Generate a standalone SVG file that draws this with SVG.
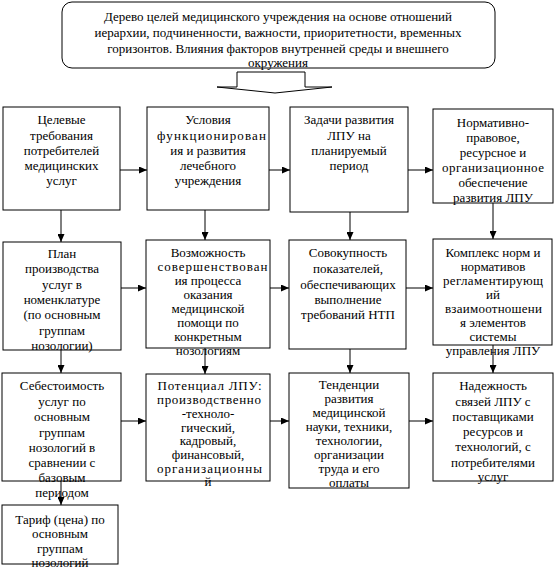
<svg xmlns="http://www.w3.org/2000/svg" width="555" height="569" viewBox="0 0 555 569">
<defs>
<style>
rect.b{fill:none;stroke:#000;stroke-width:1}
.t text{font-size:13px;fill:#000;text-anchor:middle}
.c line{stroke:#000;stroke-width:1;marker-end:url(#ah)}
</style>
<marker id="ah" markerUnits="userSpaceOnUse" markerWidth="8" markerHeight="7" refX="8" refY="3.5" orient="auto"><path d="M0,0 L8,3.5 L0,7 z" fill="#000"/></marker>
</defs>
<rect width="555" height="569" fill="#fff"/>
<g class="t" font-family="'Liberation Serif', 'DejaVu Serif', serif" lengthAdjust="spacing">
<g id="top">
<rect x="62" y="2" width="433" height="66" rx="10" fill="#fff" stroke="#000"/>
<text x="278" y="21">Дерево целей медицинского учреждения на основе отношений</text>
<text x="278" y="37">иерархии, подчиненности, важности, приоритетности, временных</text>
<text x="278" y="53">горизонтов. Влияния факторов внутренней среды и внешнего</text>
<text x="278" y="67">окружения</text>
</g>
<g id="bigarrow">
<path d="M237,72 H305 V87 H332 L275,93 L217,87 H237 Z" fill="#fff" stroke="#000"/>
</g>
<g class="c" id="connectors">
<line x1="120" y1="170" x2="147" y2="170"/>
<line x1="269" y1="170" x2="290" y2="170"/>
<line x1="408" y1="170" x2="433" y2="170"/>
<line x1="121" y1="288" x2="146" y2="288"/>
<line x1="270" y1="288" x2="289" y2="288"/>
<line x1="406" y1="288" x2="433" y2="288"/>
<line x1="121" y1="421" x2="146" y2="421"/>
<line x1="270" y1="421" x2="289" y2="421"/>
<line x1="409" y1="421" x2="433" y2="421"/>
<line x1="61" y1="210" x2="61" y2="242"/>
<line x1="205" y1="210" x2="205" y2="240"/>
<line x1="350" y1="212" x2="350" y2="240"/>
<line x1="493" y1="203" x2="493" y2="239"/>
<line x1="61" y1="350" x2="61" y2="373"/>
<line x1="205" y1="348" x2="205" y2="374"/>
<line x1="350" y1="349" x2="350" y2="373"/>
<line x1="493" y1="345" x2="493" y2="373"/>
<line x1="61" y1="481" x2="61" y2="505"/>
</g>
<g id="n11">
<rect class="b" x="3" y="107" width="117" height="103"/>
<text x="61.5" y="124">Целевые</text><text x="61.5" y="139.5">требования</text><text x="61.5" y="155">потребителей</text><text x="61.5" y="170">медицинских</text><text x="61.5" y="185">услуг</text>
</g>
<g id="n12">
<rect class="b" x="147" y="107" width="122" height="103"/>
<text x="208" y="124">Условия</text><text x="211.5" y="139.5" textLength="109">функционирован</text><text x="208" y="155">ия и развития</text><text x="208" y="170">лечебного</text><text x="208" y="185">учреждения</text>
</g>
<g id="n13">
<rect class="b" x="290" y="107" width="118" height="105"/>
<text x="349" y="124">Задачи развития</text><text x="349" y="139.5">ЛПУ на</text><text x="349" y="155">планируемый</text><text x="349" y="170">период</text>
</g>
<g id="n14">
<rect class="b" x="433" y="109" width="120" height="94"/>
<text x="493" y="127">Нормативно-</text><text x="493" y="142">правовое,</text><text x="493" y="157">ресурсное и</text><text x="493" y="172" textLength="102">организационное</text><text x="493" y="187">обеспечение</text><text x="493" y="202">развития ЛПУ</text>
</g>
<g id="n21">
<rect class="b" x="3" y="242" width="118" height="108"/>
<text x="62" y="258">План</text><text x="62" y="273">производства</text><text x="62" y="289">услуг в</text><text x="62" y="304">номенклатуре</text><text x="62" y="319">(по основным</text><text x="62" y="335">группам</text><text x="62" y="350">нозологии)</text>
</g>
<g id="n22">
<rect class="b" x="146" y="240" width="124" height="108"/>
<text x="208" y="257">Возможность</text><text x="212.5" y="271" textLength="110">совершенствован</text><text x="208" y="285">ия процесса</text><text x="208" y="299">оказания</text><text x="208" y="313">медицинской</text><text x="208" y="327">помощи по</text><text x="208" y="341">конкретным</text><text x="208" y="355">нозологиям</text>
</g>
<g id="n23">
<rect class="b" x="289" y="240" width="117" height="109"/>
<text x="348" y="257">Совокупность</text><text x="348" y="273">показателей,</text><text x="348" y="289">обеспечивающих</text><text x="348" y="304">выполнение</text><text x="348" y="319">требований НТП</text>
</g>
<g id="n24">
<rect class="b" x="433" y="239" width="119" height="106"/>
<text x="493" y="257">Комплекс норм и</text><text x="493" y="271">нормативов</text><text x="493" y="285" textLength="100">регламентирующ</text><text x="493" y="299">ий</text><text x="493.5" y="313" textLength="97">взаимоотношени</text><text x="493" y="327">я элементов</text><text x="493" y="341">системы</text><text x="493" y="355">управления ЛПУ</text>
</g>
<g id="n31">
<rect class="b" x="2" y="373" width="119" height="108"/>
<text x="62" y="390">Себестоимость</text><text x="62" y="406">услуг по</text><text x="62" y="421">основным</text><text x="62" y="437">группам</text><text x="62" y="452">нозологий в</text><text x="62" y="467">сравнении с</text><text x="62" y="482">базовым</text><text x="62" y="497">периодом</text>
</g>
<g id="n32">
<rect class="b" x="146" y="374" width="124" height="107"/>
<text x="209.5" y="390" textLength="104">Потенциал ЛПУ:</text><text x="209" y="404" textLength="104">производственно</text><text x="208" y="418">-техноло-</text><text x="208" y="431.5">гический,</text><text x="208" y="445">кадровый,</text><text x="208" y="459">финансовый,</text><text x="209.5" y="472.5" textLength="105">организационны</text><text x="208" y="486">й</text>
</g>
<g id="n33">
<rect class="b" x="289" y="373" width="120" height="115"/>
<text x="349" y="389">Тенденции</text><text x="349" y="403">развития</text><text x="349" y="417">медицинской</text><text x="349" y="431">науки, техники,</text><text x="349" y="445">технологии,</text><text x="349" y="459">организации</text><text x="349" y="473">труда и его</text><text x="349" y="487">оплаты</text>
</g>
<g id="n34">
<rect class="b" x="433" y="373" width="120" height="108"/>
<text x="493" y="390">Надежность</text><text x="493" y="406">связей ЛПУ с</text><text x="493" y="421">поставщиками</text><text x="493" y="436">ресурсов и</text><text x="493" y="451">технологий, с</text><text x="493" y="467">потребителями</text><text x="493" y="481">услуг</text>
</g>
<g id="n41">
<rect class="b" x="2" y="505" width="116" height="59"/>
<text x="60" y="524">Тариф (цена) по</text><text x="60" y="538">основным</text><text x="60" y="553">группам</text><text x="60" y="567">нозологий</text>
</g>
</g>
</svg>
